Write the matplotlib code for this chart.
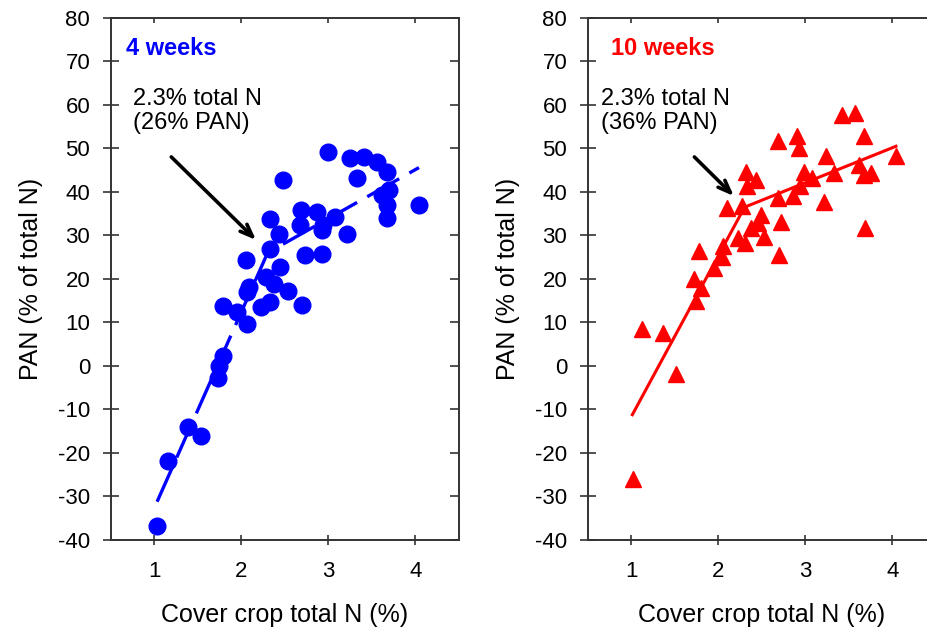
import numpy as np
import matplotlib
matplotlib.use("Agg")
from matplotlib import pyplot as plt

plt.rcParams['font.family'] = ['Liberation Sans', 'DejaVu Sans']
plt.rcParams['axes.unicode_minus'] = False

# 4 weeks (circles)
x4 = [2.99, 3.25, 3.41, 3.56, 3.67, 3.33, 2.48, 3.69, 3.62, 3.67, 3.67, 4.04,
      2.33, 2.68, 2.87, 2.67, 2.94, 2.93, 3.08, 3.21, 2.43, 2.33, 2.05, 2.44,
      2.28, 2.37, 2.09, 2.06, 2.53, 2.73, 2.93, 1.79, 1.95, 2.06, 2.23, 2.33,
      2.70, 1.79, 1.74, 1.73, 1.38, 1.53, 1.15, 1.03]
y4 = [49.2, 47.7, 48.1, 46.9, 44.6, 43.1, 42.7, 40.4, 39.2, 36.9, 34.1, 36.9,
      33.8, 35.8, 35.5, 32.3, 32.3, 31.2, 34.2, 30.4, 30.4, 26.9, 24.4, 22.7,
      20.4, 18.8, 18.1, 16.9, 17.3, 25.4, 25.8, 13.8, 12.3, 9.6, 13.5, 14.6,
      14.0, 2.3, 0.0, -2.7, -14.1, -16.2, -21.9, -36.8]
fit4_x = [1.03, 2.3, 4.04]
fit4_y = [-31.2, 26.0, 45.6]

# 10 weeks (triangles)
x10 = [1.02, 1.12, 1.36, 1.51, 1.74, 1.78, 1.72, 1.80, 1.95, 2.04, 2.05, 2.10,
       2.27, 2.32, 2.33, 2.43, 2.22, 2.31, 2.37, 2.45, 2.49, 2.52, 2.72, 2.70,
       2.68, 2.86, 2.68, 2.90, 2.93, 2.98, 2.94, 3.07, 3.24, 3.21, 3.33, 3.42,
       3.57, 3.67, 3.62, 3.67, 3.75, 3.68, 4.04]
y10 = [-26.0, 8.4, 7.5, -1.8, 15.0, 26.5, 20.0, 18.0, 22.5, 25.0, 27.6, 36.3,
       36.8, 44.5, 41.3, 42.8, 29.4, 28.2, 31.7, 32.8, 34.8, 29.6, 33.2, 25.5,
       38.6, 39.0, 51.7, 52.8, 50.2, 44.5, 41.3, 43.2, 48.2, 37.8, 44.4, 57.8,
       58.2, 52.8, 46.3, 44.0, 44.4, 31.8, 48.2]
fit10_x = [1.01, 2.3, 4.04]
fit10_y = [-11.2, 36.5, 50.5]

yticks = np.arange(-40, 81, 10)
xticks = [1, 2, 3, 4]
spine_col = '#333333'

fig = plt.figure(figsize=(9.28, 6.29), dpi=100)
ax1 = fig.add_axes([0.1196, 0.1415, 0.375, 0.830])
ax2 = fig.add_axes([0.6336, 0.1415, 0.375, 0.830])

ax1.plot(fit4_x, fit4_y, color='#0000ff', lw=2.4, dashes=(11, 3.5), zorder=2)
ax1.plot(x4, y4, 'o', color='#0000ff', ms=12, mec='#0000ff', zorder=3)

ax2.plot(x10, y10, '^', color='#ff0000', ms=11, mec='#ff0000', zorder=2)
ax2.plot(fit10_x, fit10_y, color='#ff0000', lw=2.2, zorder=3)

ax1.text(0.67, 73.0, '4 weeks', color='#0000ff', fontsize=17, fontweight='bold', va='center')
ax2.text(0.77, 73.0, '10 weeks', color='#ff0000', fontsize=17, fontweight='bold', va='center')

ax1.text(0.75, 63.8, '2.3% total N\n(26% PAN)', fontsize=17, va='top', linespacing=1.1)
ax2.text(0.65, 63.8, '2.3% total N\n(36% PAN)', fontsize=17, va='top', linespacing=1.1)

ax1.annotate('', xy=(2.19, 28.5), xytext=(1.17, 48.5),
             arrowprops=dict(arrowstyle='->,head_length=0.9,head_width=0.35', lw=2.6, color='black'))
ax2.annotate('', xy=(2.2, 38.6), xytext=(1.70, 48.5),
             arrowprops=dict(arrowstyle='->,head_length=0.9,head_width=0.35', lw=2.6, color='black'))

for ax in [ax1, ax2]:
    ax.set_xlim(0.5, 4.5)
    ax.set_ylim(-40, 80)
    ax.set_xticks(xticks)
    ax.set_yticks(yticks)
    ax.tick_params(axis='y', direction='inout', length=12, width=1.2, labelsize=16, pad=9,
                   color=spine_col)
    ax.tick_params(axis='x', direction='inout', length=7, width=1.2, labelsize=16, pad=11.5,
                   color=spine_col)
    for s in ax.spines.values():
        s.set_linewidth(1.4)
        s.set_color(spine_col)
    # inward ticks on top and right
    top = ax.secondary_xaxis('top')
    top.set_xticks(xticks)
    top.tick_params(direction='in', length=3.5, width=1.2, labeltop=False, color=spine_col)
    top.spines['top'].set_visible(False)
    right = ax.secondary_yaxis('right')
    right.set_yticks(yticks)
    right.tick_params(direction='in', length=6.5, width=1.2, labelright=False, color=spine_col)
    right.spines['right'].set_visible(False)
    ax.set_xlabel('Cover crop total N (%)', fontsize=18, labelpad=15)
    ax.set_ylabel('PAN (% of total N)', fontsize=18, labelpad=11)

fig.savefig('out.png', dpi=100)
